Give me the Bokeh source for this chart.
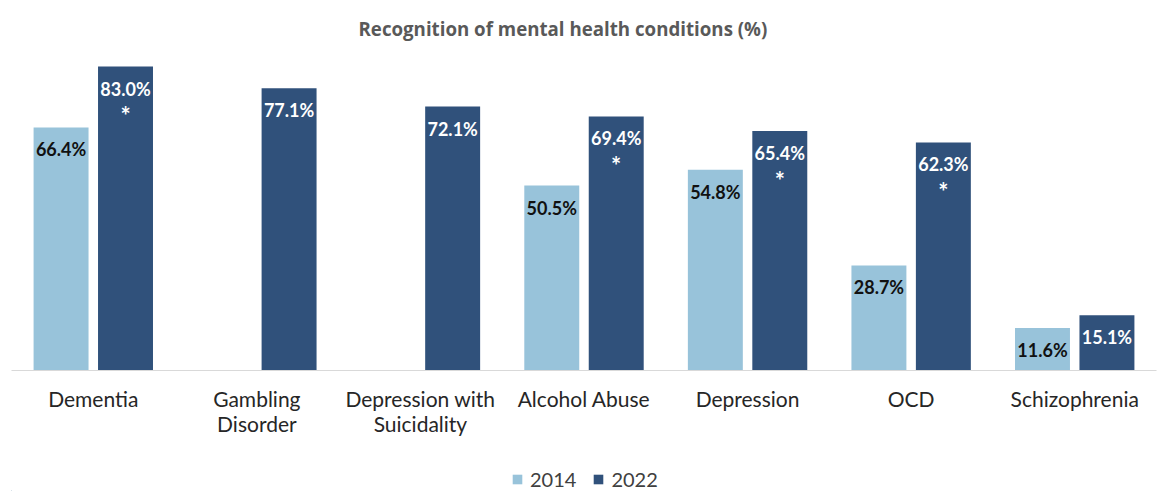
import math
from bokeh.plotting import figure
from bokeh.layouts import column
from bokeh.models import (ColumnDataSource, FactorRange, Range1d, Legend, LegendItem,
                          CategoricalAxis)
from bokeh.transform import dodge
from bokeh.core.properties import value
from bokeh.embed import file_html
from bokeh.resources import INLINE

nan = float("nan")

categories = ["Dementia", "Gambling Disorder", "Depression with Suicidality",
              "Alcohol Abuse", "Depression", "OCD", "Schizophrenia"]
tick_line1 = ["Dementia", "Gambling", "Depression with",
              "Alcohol Abuse", "Depression", "OCD", "Schizophrenia"]
tick_line2 = ["", "Disorder", "Suicidality", "", "", "", ""]
years = ["2014", "2022"]
values_2014 = [66.4, nan, nan, 50.5, 54.8, 28.7, 11.6]
values_2022 = [83.0, 77.1, 72.1, 69.4, 65.4, 62.3, 15.1]
significant_2022 = [True, False, False, True, True, True, False]

LIGHT = "#98C3DA"
DARK = "#30517B"
FONT = "Lato"


def fmt(v):
    return "" if (v is None or math.isnan(v)) else f"{v:.1f}%"


src = ColumnDataSource(dict(
    category=categories,
    v2014=values_2014,
    v2022=values_2022,
    lab2014=[fmt(v) for v in values_2014],
    lab2022=[fmt(v) for v in values_2022],
    star=["*" if s else "" for s in significant_2022],
))

# ---------------- main chart ----------------
p = figure(x_range=FactorRange(factors=categories), y_range=Range1d(0, 87.4),
           width=1164, height=451, output_backend="svg", toolbar_location=None,
           x_axis_location=None, y_axis_location=None,
           min_border_left=11, min_border_right=8,
           min_border_top=50, min_border_bottom=81)

p.title.text = "Recognition of mental health conditions (%)"
p.title.align = "left"
p.title.offset = 347
p.title.standoff = 20
p.title.text_font = "Open Sans"
p.title.text_font_style = "bold"
p.title.text_font_size = "18.7px"
p.title.text_color = "#595959"

p.outline_line_color = None
p.xgrid.visible = False
p.ygrid.visible = False
p.background_fill_color = "white"
p.border_fill_color = "white"

off = 0.197
bw = 0.336
p.vbar(x=dodge("category", -off, range=p.x_range), top="v2014", width=bw,
       source=src, fill_color=LIGHT, line_color=None)
p.vbar(x=dodge("category", off, range=p.x_range), top="v2022", width=bw,
       source=src, fill_color=DARK, line_color=None)

p.text(x=dodge("category", -off, range=p.x_range), y="v2014", text="lab2014",
       source=src, text_align="center", text_baseline="middle", y_offset=22,
       text_font=value(FONT), text_font_style="bold", text_font_size="18px",
       text_color="#111111")
p.text(x=dodge("category", off, range=p.x_range), y="v2022", text="lab2022",
       source=src, text_align="center", text_baseline="middle", y_offset=22,
       text_font=value(FONT), text_font_style="bold", text_font_size="18px",
       text_color="white")
p.text(x=dodge("category", off, range=p.x_range), y="v2022", text="star",
       source=src, text_align="center", text_baseline="middle", y_offset=49,
       text_font=value(FONT), text_font_style="bold", text_font_size="24px",
       text_color="white")

# axis tick labels: two stacked categorical axes on mirrored factor ranges
p.extra_x_ranges["line1"] = FactorRange(factors=tick_line1)
p.extra_x_ranges["line2"] = FactorRange(
    factors=[t if t else " " * (i + 1) for i, t in enumerate(tick_line2)])


def style_axis(ax):
    ax.major_tick_line_color = None
    ax.minor_tick_line_color = None
    ax.major_tick_out = 0
    ax.major_tick_in = 0
    ax.major_label_text_font = FONT
    ax.major_label_text_font_size = "21px"
    ax.major_label_text_color = "#262626"


ax1 = CategoricalAxis(x_range_name="line1")
style_axis(ax1)
ax1.axis_line_color = "#D9D9D9"
ax1.axis_line_width = 1
ax1.major_label_standoff = 15
p.add_layout(ax1, "below")

ax2 = CategoricalAxis(x_range_name="line2")
style_axis(ax2)
ax2.axis_line_color = None
ax2.major_label_standoff = -3
p.add_layout(ax2, "below")

# ---------------- legend strip ----------------
q = figure(x_range=Range1d(0, 1164), y_range=Range1d(0, 40), width=1164, height=40,
           output_backend="svg", toolbar_location=None,
           x_axis_location=None, y_axis_location=None,
           min_border_left=0, min_border_right=0, min_border_top=0, min_border_bottom=0)
q.outline_line_color = None
q.xgrid.visible = False
q.ygrid.visible = False
# off-screen proxy bars that only feed the legend swatches
proxy = ColumnDataSource(dict(x=[-100], top=[1]))
k1 = q.vbar(x="x", top="top", width=1, source=proxy, fill_color=LIGHT, line_color=None)
k2 = q.vbar(x="x", top="top", width=1, source=proxy, fill_color=DARK, line_color=None)
legend = Legend(items=[LegendItem(label=years[0], renderers=[k1]),
                       LegendItem(label=years[1], renderers=[k2])],
                orientation="horizontal", location=(500, 0),
                glyph_width=12, glyph_height=12, label_standoff=7, spacing=16,
                padding=0, margin=0, border_line_alpha=0, background_fill_alpha=0,
                label_text_font=FONT, label_text_font_size="20px",
                label_text_color="#404040")
q.add_layout(legend, "center")

layout = column(p, q, spacing=0)
open("out.html", "w").write(file_html(layout, INLINE))
